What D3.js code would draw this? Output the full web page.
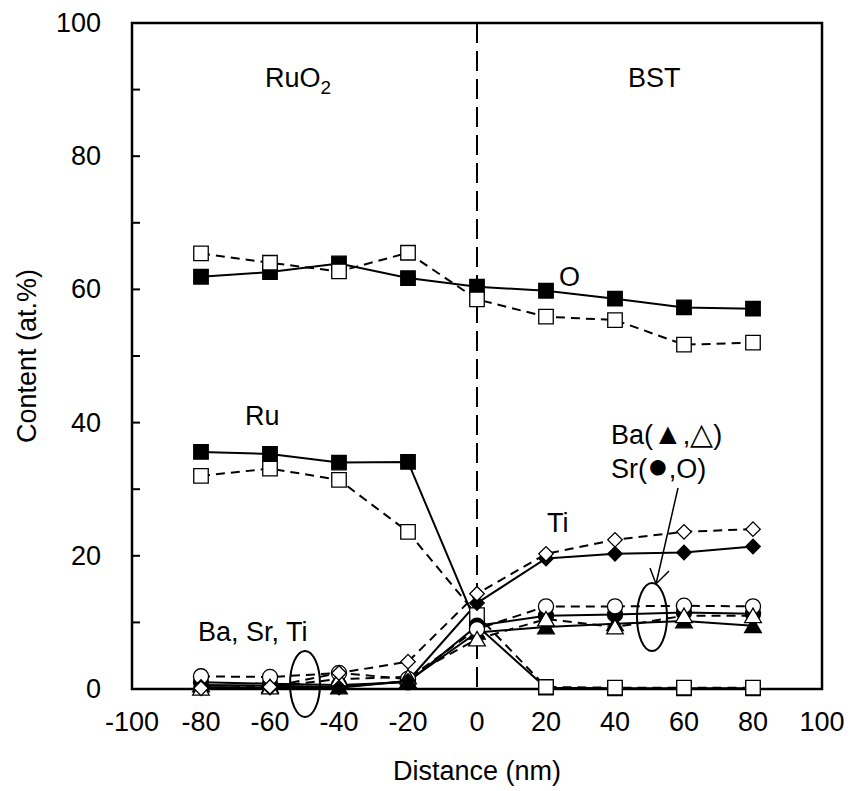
<!DOCTYPE html>
<html>
<head>
<meta charset="utf-8">
<script src="https://cdn.jsdelivr.net/npm/d3@7"></script>
<style>
  body { margin: 0; background: #fff; }
  text { font-family: "Liberation Sans", Arial, sans-serif; fill: #000; }
</style>
</head>
<body>
<script>
// depth profile across the RuO2 / BST interface

var distance = [-80, -60, -40, -20, 0, 20, 40, 60, 80];
var xTicks = [-100, -80, -60, -40, -20, 0, 20, 40, 60, 80, 100];
var yTicks = [0, 20, 40, 60, 80, 100];
var yMinor = [10, 30, 50, 70, 90];

// filled = one sample, open = the other
var oFilled  = [61.9, 62.6, 63.9, 61.7, 60.4, 59.8, 58.6, 57.3, 57.1];
var oOpen    = [65.4, 64.0, 62.7, 65.5, 58.5, 55.9, 55.4, 51.7, 52.0];
var ruFilled = [35.6, 35.3, 34.0, 34.1, 9.5, 0.2, 0.1, 0.1, 0.1];
var ruOpen   = [32.0, 33.1, 31.4, 23.6, 11.1, 0.3, 0.2, 0.2, 0.2];
var tiFilled = [0.3, 0.2, 0.2, 1.2, 12.9, 19.6, 20.3, 20.5, 21.4];
var tiOpen   = [0.1, 0.3, 2.4, 4.1, 14.3, 20.3, 22.4, 23.6, 24.0];
var srFilled = [1.0, 0.8, 0.6, 1.0, 9.5, 11.0, 11.2, 11.5, 11.3];
var srOpen   = [1.9, 1.8, 2.4, 1.5, 9.0, 12.4, 12.4, 12.5, 12.4];
var baFilled = [0.6, 0.5, 0.3, 1.2, 8.5, 9.3, 9.8, 10.2, 9.5];
var baOpen   = [0.1, 0.3, 1.5, 1.8, 7.5, 10.5, 9.3, 11.0, 11.0];

var w = 851, h = 791;
var plotL = 132, plotR = 822, plotT = 23, plotB = 689;

var svg = d3.select("body").append("svg")
  .attr("width", w)
  .attr("height", h);

var x = d3.scaleLinear().domain([-100, 100]).range([plotL, plotR]);
var y = d3.scaleLinear().domain([0, 100]).range([plotB, plotT]);

// frame
svg.append("rect")
  .attr("x", plotL).attr("y", plotT)
  .attr("width", plotR - plotL).attr("height", plotB - plotT)
  .attr("fill", "none").attr("stroke", "#000").attr("stroke-width", 2.5);

// y ticks (inside)
svg.selectAll(".ytick")
  .data(yTicks.concat(yMinor))
  .enter().append("line")
  .attr("x1", plotL).attr("x2", plotL + 8)
  .attr("y1", function(d){ return y(d); })
  .attr("y2", function(d){ return y(d); })
  .attr("stroke", "#000").attr("stroke-width", 2);

svg.selectAll(".ylab")
  .data(yTicks)
  .enter().append("text")
  .attr("x", 101)
  .attr("y", function(d){ return y(d) + 9; })
  .attr("text-anchor", "end")
  .style("font-size", "27px")
  .text(function(d){ return d; });

svg.selectAll(".xlab")
  .data(xTicks)
  .enter().append("text")
  .attr("x", function(d){ return x(d); })
  .attr("y", 731)
  .attr("text-anchor", "middle")
  .style("font-size", "27px")
  .text(function(d){ return d; });

svg.append("text")
  .attr("x", x(0)).attr("y", 780)
  .attr("text-anchor", "middle")
  .style("font-size", "27px")
  .text("Distance (nm)");

svg.append("text")
  .attr("transform", "translate(36,356) rotate(-90)")
  .attr("text-anchor", "middle")
  .style("font-size", "27px")
  .text("Content (at.%)");

// interface line
svg.append("line")
  .attr("x1", x(0)).attr("x2", x(0))
  .attr("y1", plotT).attr("y2", plotB)
  .attr("stroke", "#000").attr("stroke-width", 2)
  .attr("stroke-dasharray", "20,8");

var line = d3.line()
  .x(function(d, i){ return x(distance[i]); })
  .y(function(d){ return y(d); });

var square = d3.symbol().type(d3.symbolSquare).size(210);
var diamond = d3.symbol().type(d3.symbolSquare).size(105);
var circle = d3.symbol().type(d3.symbolCircle).size(180);
var triangle = d3.symbol().type(d3.symbolTriangle).size(120);

var series = [
  {values: ruFilled, filled: true,  shape: square},
  {values: oFilled,  filled: true,  shape: square},
  {values: ruOpen,   filled: false, shape: square},
  {values: oOpen,    filled: false, shape: square},
  {values: srFilled, filled: true,  shape: circle},
  {values: baFilled, filled: true,  shape: triangle, dy: 2},
  {values: srOpen,   filled: false, shape: circle},
  {values: baOpen,   filled: false, shape: triangle, dy: 2},
  {values: tiFilled, filled: true,  shape: diamond, rot: 45},
  {values: tiOpen,   filled: false, shape: diamond, rot: 45}
];

// lines first, then markers
series.forEach(function(s){
  svg.append("path")
    .datum(s.values)
    .attr("d", line)
    .attr("fill", "none")
    .attr("stroke", "#000")
    .attr("stroke-width", 2)
    .attr("stroke-dasharray", s.filled ? null : "9,6");
});

series.forEach(function(s){
  svg.selectAll(null)
    .data(s.values)
    .enter().append("path")
    .attr("d", s.shape)
    .attr("transform", function(d, i){
      return "translate(" + x(distance[i]) + "," + (y(d) + (s.dy || 0)) + ")" +
        (s.rot ? " rotate(" + s.rot + ")" : "");
    })
    .attr("fill", s.filled ? "#000" : "#fff")
    .attr("stroke", "#000")
    .attr("stroke-width", 1.3);
});

// labels
var lab = svg.append("text").attr("x", 265).attr("y", 87).style("font-size", "27px");
lab.append("tspan").text("RuO");
lab.append("tspan").attr("dy", 7).style("font-size", "19px").text("2");

svg.append("text").attr("x", 628).attr("y", 87).style("font-size", "27px").text("BST");
svg.append("text").attr("x", 559).attr("y", 286).style("font-size", "27px").text("O");
svg.append("text").attr("x", 245).attr("y", 425).style("font-size", "27px").text("Ru");
svg.append("text").attr("x", 547).attr("y", 532).style("font-size", "27px").text("Ti");

var ba = svg.append("text").attr("x", 611).attr("y", 444).style("font-size", "27px");
ba.append("tspan").text("Ba(");
ba.append("tspan").style("font-size", "30px").text("\u25B2");
ba.append("tspan").text(",");
ba.append("tspan").style("font-size", "30px").text("\u25B3");
ba.append("tspan").text(")");

var sr = svg.append("text").attr("x", 611).attr("y", 478).style("font-size", "27px");
sr.append("tspan").text("Sr(");
sr.append("tspan").style("font-size", "36px").text("\u25CF");
sr.append("tspan").text(",O)");

svg.append("text").attr("x", 198).attr("y", 641).style("font-size", "27px").text("Ba, Sr, Ti");

// arrow to the Ba/Sr group
svg.append("path")
  .attr("d", "M678,488 L656,584 M650,568 L656,584 L669,571")
  .attr("fill", "none").attr("stroke", "#000").attr("stroke-width", 1.5);

// loops round the groups
svg.append("ellipse")
  .attr("cx", 652).attr("cy", 617).attr("rx", 15).attr("ry", 34)
  .attr("fill", "none").attr("stroke", "#000").attr("stroke-width", 2);
svg.append("ellipse")
  .attr("cx", 305).attr("cy", 684).attr("rx", 15).attr("ry", 33)
  .attr("fill", "none").attr("stroke", "#000").attr("stroke-width", 2);
</script>
</body>
</html>
